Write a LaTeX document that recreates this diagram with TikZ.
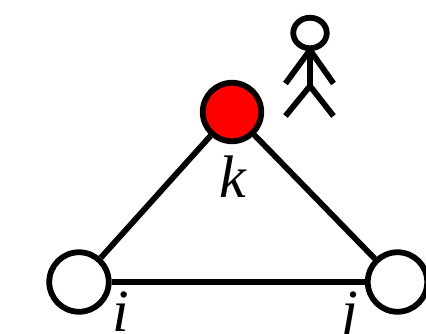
\documentclass[tikz,border=0pt]{standalone}
\usepackage{fontspec}
\setmainfont{Liberation Serif}
\usetikzlibrary{shapes.geometric}
\begin{document}
\begin{tikzpicture}[x=1pt,y=-1pt,
  ln/.style={line width=5.8pt,black},
  vertex/.style={circle,draw=black,line width=5.8pt,inner sep=0pt,minimum size=59.5pt,fill=white},
  lab/.style={font=\fontsize{60}{60}\selectfont\itshape,anchor=base,inner sep=0pt,text=black}]
\useasboundingbox (0,0) rectangle (426,333);
\clip (0,0) rectangle (426,333);
\path[fill=white] (0,0) rectangle (426,333);
\node[vertex,minimum size=58.5pt,fill=red] (k) at (232,112) {};
\node[vertex] (i) at (79,282) {};
\node[vertex] (j) at (397.5,282) {};
\draw[ln] (k) -- (i);
\draw[ln] (k) -- (j);
\draw[ln] (i) -- (j);
\node[lab] (kl) at (233,197) {k};
\node[lab] (il) at (121,331) {i};
\node[lab] (jl) at (350,331) {j};
\node[ellipse,draw=black,line width=5.8pt,inner sep=0pt,minimum width=33.5pt,minimum height=30.5pt] (head) at (310,33) {};
\coordinate (neck) at (310,50);
\coordinate (hip) at (310,86);
\coordinate (handl) at (285.5,83.5);
\coordinate (handr) at (333.5,83.5);
\coordinate (footl) at (285.5,116);
\coordinate (footr) at (333.5,116);
\draw[ln] (head.south) -- (hip);
\draw[ln] (neck) -- (handl);
\draw[ln] (neck) -- (handr);
\draw[ln] (hip) -- (footl);
\draw[ln] (hip) -- (footr);
\end{tikzpicture}
\end{document}
